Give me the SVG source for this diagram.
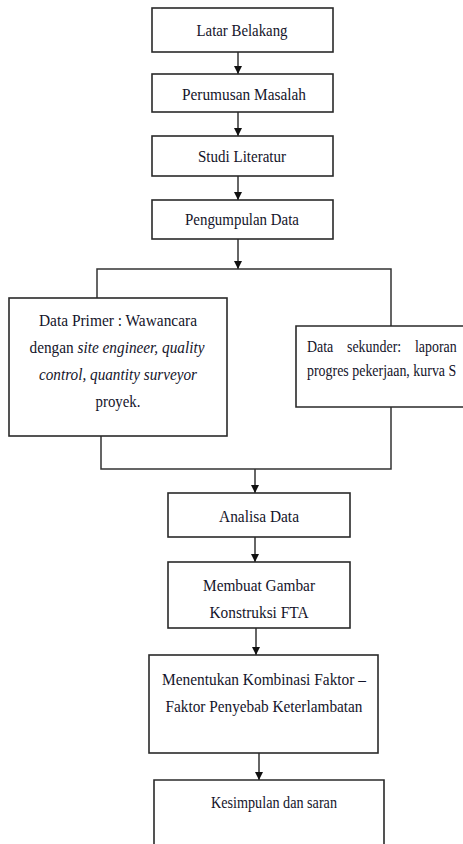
<svg xmlns="http://www.w3.org/2000/svg" width="463" height="844" viewBox="0 0 463 844">
<defs>
<style>
.box{fill:#fff;stroke:#2a2a2a;stroke-width:1.6}
.ln{fill:none;stroke:#333;stroke-width:1.5}
text{font-family:"Liberation Serif","Times New Roman",serif;font-size:17px;fill:#14142a}
.c{text-anchor:middle}
.i{font-style:italic}
</style>
<marker id="ah" viewBox="0 0 10 10" refX="10" refY="5" markerWidth="8" markerHeight="9" markerUnits="userSpaceOnUse" orient="auto">
<path d="M0,0 L10,5 L0,10 Z" fill="#111"/>
</marker>
</defs>
<rect width="463" height="844" fill="#fff"/>
<g id="connectors">
<line class="ln" x1="238" y1="52" x2="238" y2="74" marker-end="url(#ah)"/>
<line class="ln" x1="238" y1="112" x2="238" y2="136" marker-end="url(#ah)"/>
<line class="ln" x1="238" y1="176" x2="238" y2="200" marker-end="url(#ah)"/>
<line class="ln" x1="238" y1="239" x2="238" y2="269" marker-end="url(#ah)"/>
<polyline class="ln" points="97,298 97,269 391,269 391,326"/>
<polyline class="ln" points="101,436 101,469 391,469 391,407"/>
<line class="ln" x1="255" y1="469" x2="255" y2="493" marker-end="url(#ah)"/>
<line class="ln" x1="255" y1="537" x2="255" y2="562" marker-end="url(#ah)"/>
<line class="ln" x1="256" y1="628" x2="256" y2="655" marker-end="url(#ah)"/>
<line class="ln" x1="259" y1="753" x2="259" y2="780" marker-end="url(#ah)"/>
</g>
<g id="latar">
<rect class="box" x="152" y="8" width="181" height="44"/>
<text class="c" x="242" y="36" textLength="91" lengthAdjust="spacingAndGlyphs">Latar Belakang</text>
</g>
<g id="perumusan">
<rect class="box" x="152" y="74" width="181" height="38"/>
<text class="c" x="244" y="100" textLength="124" lengthAdjust="spacingAndGlyphs">Perumusan Masalah</text>
</g>
<g id="studi">
<rect class="box" x="152" y="136" width="181" height="40"/>
<text class="c" x="242" y="162" textLength="88" lengthAdjust="spacingAndGlyphs">Studi Literatur</text>
</g>
<g id="pengumpulan">
<rect class="box" x="152" y="200" width="181" height="39"/>
<text class="c" x="242" y="225" textLength="114" lengthAdjust="spacingAndGlyphs">Pengumpulan Data</text>
</g>
<g id="primer">
<rect class="box" x="9" y="298" width="218" height="138"/>
<text class="c" x="118" y="326" textLength="158" lengthAdjust="spacingAndGlyphs">Data Primer : Wawancara</text>
<text class="c" x="117" y="353" textLength="175" lengthAdjust="spacingAndGlyphs">dengan <tspan class="i">site engineer, quality</tspan></text>
<text class="c i" x="118" y="380" textLength="158" lengthAdjust="spacingAndGlyphs">control, quantity surveyor</text>
<text class="c" x="118" y="407" textLength="45" lengthAdjust="spacingAndGlyphs">proyek.</text>
</g>
<g id="sekunder">
<path class="box" d="M463,326 H296 V407 H463"/>
<g transform="translate(307,0) scale(0.82,1)">
<text x="0" y="352">Data</text>
<text x="48.8" y="352">sekunder:</text>
<text x="131.7" y="352">laporan</text>
<text x="0" y="376">progres pekerjaan, kurva S</text>
</g>
</g>
<g id="analisa">
<rect class="box" x="168" y="493" width="182" height="44"/>
<text class="c" x="259" y="522" textLength="80" lengthAdjust="spacingAndGlyphs">Analisa Data</text>
</g>
<g id="membuat">
<rect class="box" x="168" y="562" width="182" height="66"/>
<text class="c" x="259" y="591" textLength="112" lengthAdjust="spacingAndGlyphs">Membuat Gambar</text>
<text class="c" x="259" y="618" textLength="99" lengthAdjust="spacingAndGlyphs">Konstruksi FTA</text>
</g>
<g id="menentukan">
<rect class="box" x="149" y="655" width="229" height="98"/>
<text class="c" x="264" y="685" textLength="204" lengthAdjust="spacingAndGlyphs">Menentukan Kombinasi Faktor –</text>
<text class="c" x="264" y="712" textLength="197" lengthAdjust="spacingAndGlyphs">Faktor Penyebab Keterlambatan</text>
</g>
<g id="kesimpulan">
<path class="box" d="M154,844 V780 H384 V844"/>
<text class="c" x="274" y="808" textLength="126" lengthAdjust="spacingAndGlyphs">Kesimpulan dan saran</text>
</g>
</svg>
